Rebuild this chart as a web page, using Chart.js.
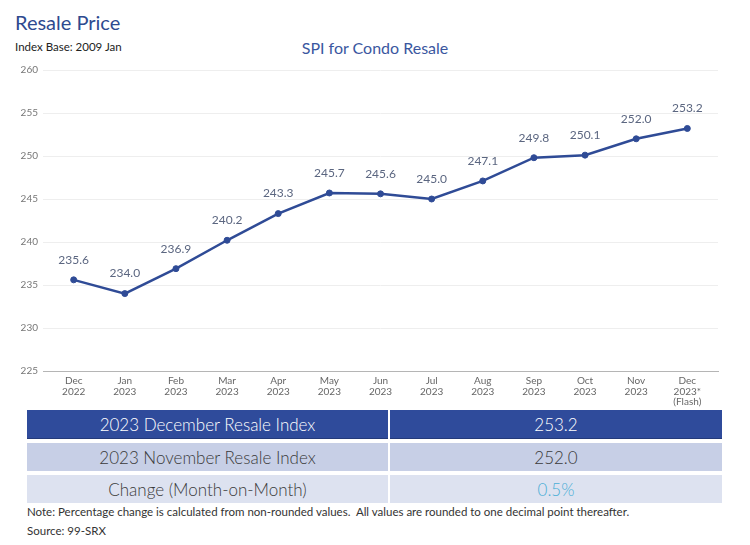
<!DOCTYPE html>
<html>
<head>
<meta charset="utf-8">
<script src="https://cdn.jsdelivr.net/npm/chart.js@4.4.1/dist/chart.umd.min.js"></script>
<style>
  body { margin: 0; width: 750px; height: 545px; background: #fff; font-family: Lato, "Noto Sans", sans-serif; position: relative; overflow: hidden; }
  #title { position: absolute; left: 15px; top: 10px; font-size: 20px; color: #2e4a8f; }
  #base { position: absolute; left: 15px; top: 40px; font-size: 11.5px; color: #222; }
  #chartTitle { position: absolute; left: 0; width: 750px; top: 38px; text-align: center; font-size: 16px; color: #3a57a0; }
  #chartBox { position: absolute; left: 0; top: 55px; width: 750px; height: 355px; }
  table { position: absolute; left: 27px; top: 410px; width: 695px; border-collapse: collapse; font-size: 17px; font-weight: 300; }
  td { height: 28px; text-align: center; padding: 0; }
  td.l { width: 361px; border-right: 2px solid #fff; }
  tr.gap td { height: 4px; background: #fff; }
  tr.r1 td { background: #2f4b9b; color: #fff; border-bottom: 1px solid #243a7a; }
  tr.r2 td { background: #c7cfe6; color: #3a3a3a; }
  tr.r3 td { background: #dde2f0; color: #3a3a3a; }
  td.pct { color: #4aaed6 !important; }
  #note { position: absolute; left: 27px; top: 505px; font-size: 11.5px; color: #333; }
  #src { position: absolute; left: 27px; top: 524px; font-size: 11.5px; color: #333; }
</style>
</head>
<body>
<div id="title">Resale Price</div>
<div id="base">Index Base: 2009 Jan</div>
<div id="chartTitle">SPI for Condo Resale</div>
<div id="chartBox"><canvas id="myChart"></canvas></div>
<table>
  <tr class="r1"><td class="l">2023 December Resale Index</td><td>253.2</td></tr>
  <tr class="gap"><td class="l"></td><td></td></tr>
  <tr class="r2"><td class="l">2023 November Resale Index</td><td>252.0</td></tr>
  <tr class="gap"><td class="l"></td><td></td></tr>
  <tr class="r3"><td class="l">Change (Month-on-Month)</td><td class="pct">0.5%</td></tr>
</table>
<div id="note">Note: Percentage change is calculated from non-rounded values.&nbsp; All values are rounded to one decimal point thereafter.</div>
<div id="src">Source: 99-SRX</div>
<script>
const months = [['Dec', '2022'], ['Jan', '2023'], ['Feb', '2023'], ['Mar', '2023'], ['Apr', '2023'], ['May', '2023'],
  ['Jun', '2023'], ['Jul', '2023'], ['Aug', '2023'], ['Sep', '2023'], ['Oct', '2023'], ['Nov', '2023'], ['Dec', '2023*', '(Flash)']]
const spi = [235.6, 234.0, 236.9, 240.2, 243.3, 245.7, 245.6, 245.0, 247.1, 249.8, 250.1, 252.0, 253.2]
const yTicks = [225, 230, 235, 240, 245, 250, 255, 260]

let points = []
for (let i = 0; i < spi.length; i++) {
    points.push({ x: i, y: spi[i] })
}

// draws the value above each point
const valueLabels = {
    id: 'valueLabels',
    afterDatasetsDraw(chart) {
        const ctx = chart.ctx
        const meta = chart.getDatasetMeta(0)
        ctx.save()
        ctx.font = '12px Lato, "Noto Sans", sans-serif'
        ctx.fillStyle = '#5b6680'
        ctx.textAlign = 'center'
        ctx.textBaseline = 'middle'
        meta.data.forEach((pt, i) => {
            ctx.fillText(spi[i].toFixed(1), pt.x, pt.y - 20)
        })
        ctx.restore()
    }
}

let myChart = document.getElementById('myChart')
new Chart(myChart, {
    type: 'line',
    data: {
        datasets: [{
            data: points,
            borderColor: '#2f4b96',
            backgroundColor: '#2f4b96',
            borderWidth: 2.5,
            pointRadius: 3,
            pointBorderWidth: 1,
            pointHoverRadius: 3,
            tension: 0
        }]
    },
    options: {
        responsive: true,
        maintainAspectRatio: false,
        animation: false,
        layout: { padding: { top: 15, right: 32, bottom: 0, left: 0 } },
        plugins: {
            legend: { display: false },
            tooltip: { enabled: false }
        },
        scales: {
            x: {
                type: 'linear',
                min: -0.6,
                max: 12.6,
                afterBuildTicks: axis => { axis.ticks = months.map((m, i) => ({ value: i })) },
                grid: { display: false },
                border: { display: true, color: '#b5b5b5', width: 1 },
                ticks: {
                    autoSkip: false,
                    maxRotation: 0,
                    padding: -3,
                    color: '#666',
                    font: { size: 10, family: 'Lato, "Noto Sans", sans-serif', lineHeight: 1.05 },
                    callback: v => months[v]
                },
                afterFit: scale => { scale.height = 39 }
            },
            y: {
                min: 225,
                max: 260,
                afterBuildTicks: axis => { axis.ticks = yTicks.map(v => ({ value: v })) },
                grid: { color: '#eeeeee', drawTicks: false },
                border: { display: false },
                ticks: {
                    padding: 5,
                    color: '#777',
                    font: { size: 10, family: 'Lato, "Noto Sans", sans-serif' }
                },
                afterFit: scale => { scale.width = 43 }
            }
        }
    },
    plugins: [valueLabels]
})
</script>
</body>
</html>
